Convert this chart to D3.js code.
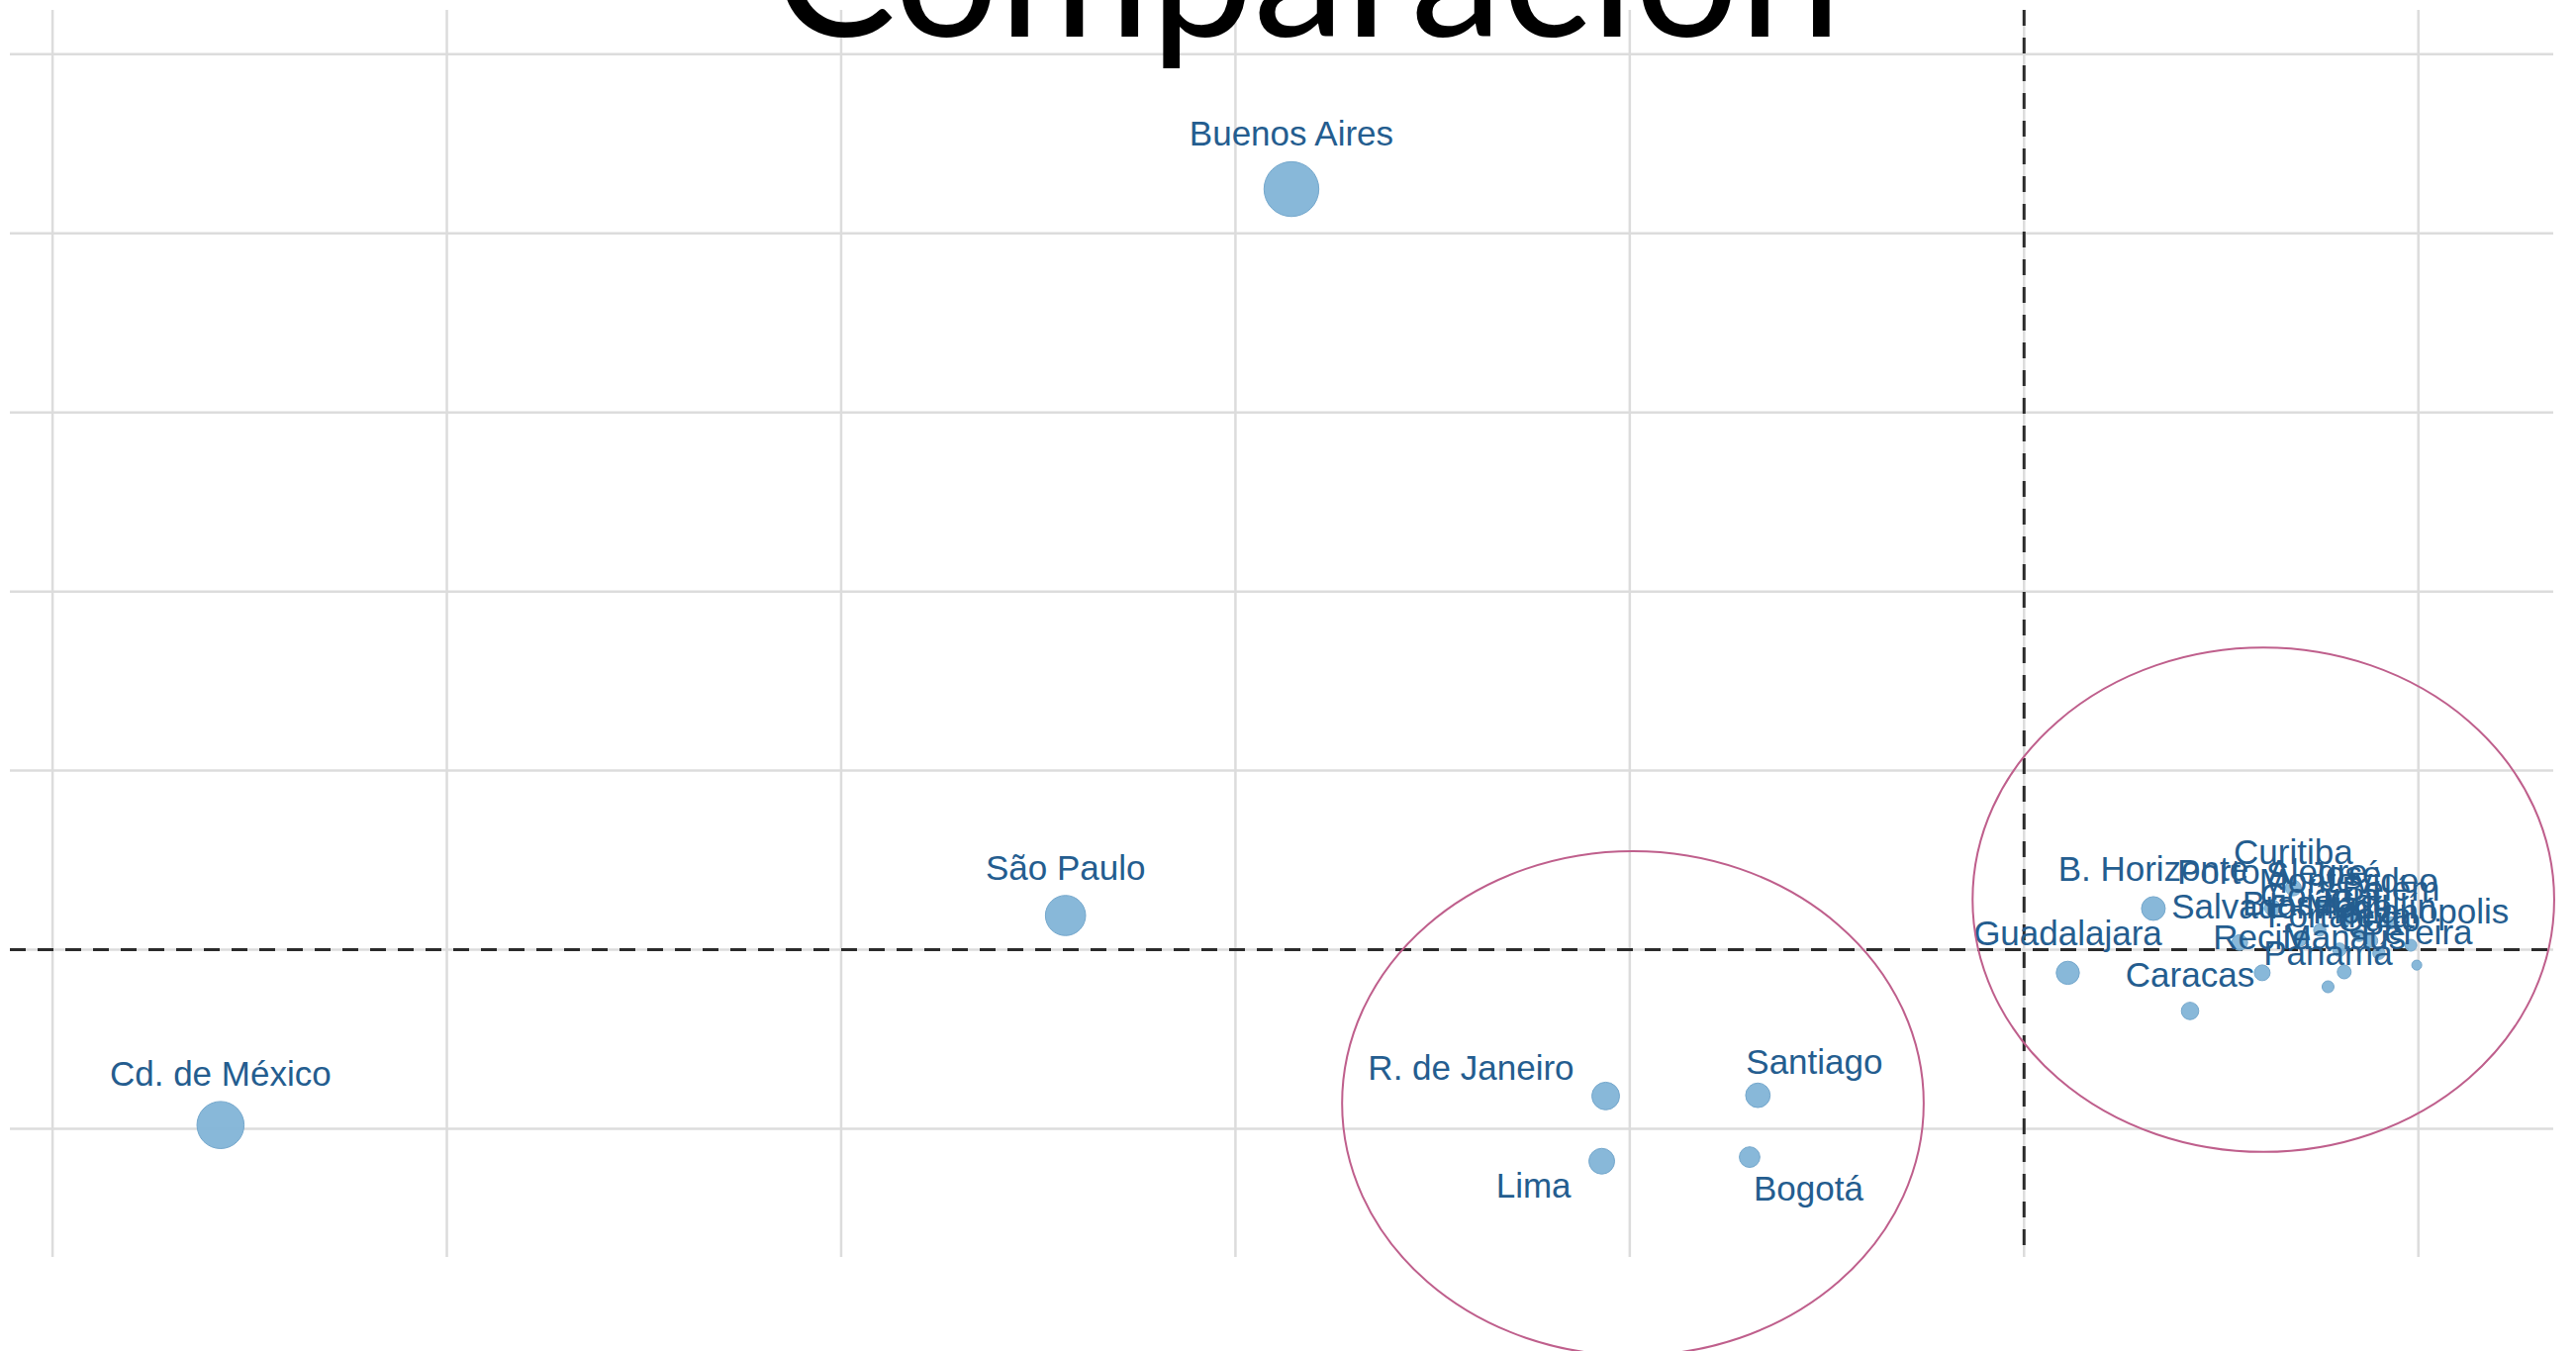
<!DOCTYPE html>
<html>
<head>
<meta charset="utf-8">
<script src="https://cdnjs.cloudflare.com/ajax/libs/d3/7.8.5/d3.min.js"></script>
<style>
  body { margin: 0; background: #fff; overflow: hidden; }
  .label { font-family: "Liberation Sans", Arial, sans-serif; font-size: 35px; fill: #245d8f; }
</style>
</head>
<body>
<div class="chart"></div>
<script>

// Data

var cities = ["Buenos Aires", "São Paulo", "Cd. de México", "R. de Janeiro", "Santiago", "Lima", "Bogotá",
    "B. Horizonte", "Guadalajara", "Caracas", "Recife", "Panamá", "Manaus", "Pereira", "Salvador",
    "Florianópolis", "Montevideo", "Curitiba", "Porto Alegre", "S. José", "Brasília", "Medellín",
    "Quito", "Goiânia", "Belém", "Fortaleza", "Cali"];

var xValues = [3.142, 2.569, 0.426, 3.939, 4.325, 3.929, 4.304,
    5.328, 5.111, 5.421, 5.604, 5.771, 5.812, 5.996, 5.547,
    5.981, 5.823, 5.683, 5.630, 5.760, 5.700, 5.880,
    5.900, 5.750, 5.930, 5.800, 5.850];

var yValues = [5.247, 1.191, 0.021, 0.183, 0.187, -0.181, -0.158,
    1.230, 0.871, 0.658, 0.871, 0.793, 0.876, 0.914, 1.040,
    1.025, 1.185, 1.345, 1.234, 1.230, 1.060, 1.050,
    0.980, 1.110, 1.150, 1.000, 1.080];

var sizes = [100, 53.7, 73.8, 25.5, 20, 22, 14.1,
    18.8, 17.8, 10.1, 8.3, 4.7, 6.4, 3.3, 8.3,
    4.7, 8.3, 8.3, 8.3, 6, 7, 6,
    5, 5, 5, 6, 5];

var xTicks = [0, 1, 2, 3, 4, 5, 6];
var yTicks = [0, 1, 2, 3, 4, 5, 6];

// reference lines (dashed)
var xRef = 5;
var yRef = 1;

// circled groups: centre and radii in data units
var groups = [
    { cx: 5.607, cy: 1.279, rx: 0.7375, ry: 1.408 },
    { cx: 4.008, cy: 0.142, rx: 0.7375, ry: 1.408 }
];

var title = "Comparación";

// Set-up the plot dimensions

var svgWidth = 2603;
var svgHeight = 1365;

var plot = { left: 10, right: 2580, top: 10, bottom: 1270 };

var svg = d3.select(".chart")
    .append("svg")
    .attr("width", svgWidth)
    .attr("height", svgHeight)
    .style("display", "block");

svg.append("rect")
    .attr("width", svgWidth)
    .attr("height", svgHeight)
    .attr("fill", "#fff");

var xScale = d3.scaleLinear()
    .domain([0, 6])
    .range([53.1, 2443.7]);

var yScale = d3.scaleLinear()
    .domain([0, 6])
    .range([1140.5, 54.8]);

var rScale = d3.scaleSqrt()
    .domain([0, 100])
    .range([0, 27.7]);

var data = cities.map(function(name, i) {
    return { name: name, x: xValues[i], y: yValues[i], size: sizes[i] };
});

var chart = svg.append("g");

// Grid lines

chart.append("g")
    .selectAll("line")
    .data(xTicks)
    .enter()
    .append("line")
    .attr("x1", function(d) { return xScale(d); })
    .attr("x2", function(d) { return xScale(d); })
    .attr("y1", plot.top)
    .attr("y2", plot.bottom)
    .attr("stroke", "#dcdcdc")
    .attr("stroke-width", 2.5);

chart.append("g")
    .selectAll("line")
    .data(yTicks)
    .enter()
    .append("line")
    .attr("x1", plot.left)
    .attr("x2", plot.right)
    .attr("y1", function(d) { return yScale(d); })
    .attr("y2", function(d) { return yScale(d); })
    .attr("stroke", "#dcdcdc")
    .attr("stroke-width", 2.5);

// Dashed reference lines

chart.append("line")
    .attr("x1", xScale(xRef))
    .attr("x2", xScale(xRef))
    .attr("y1", plot.top)
    .attr("y2", plot.bottom)
    .attr("stroke", "#2b2b2b")
    .attr("stroke-width", 3)
    .attr("stroke-dasharray", "16,12");

chart.append("line")
    .attr("x1", plot.left)
    .attr("x2", plot.right)
    .attr("y1", yScale(yRef))
    .attr("y2", yScale(yRef))
    .attr("stroke", "#2b2b2b")
    .attr("stroke-width", 3)
    .attr("stroke-dasharray", "16,12");

// Bubbles

chart.append("g")
    .selectAll("circle")
    .data(data)
    .enter()
    .append("circle")
    .attr("cx", function(d) { return xScale(d.x); })
    .attr("cy", function(d) { return yScale(d.y); })
    .attr("r", function(d) { return rScale(d.size); })
    .attr("fill", "#82b4d7")
    .attr("fill-opacity", 0.95)
    .attr("stroke", "#74a7cc")
    .attr("stroke-width", 1);

// Label placement: default is centred above the bubble

var placement = {
    "R. de Janeiro": { anchor: "end", dx: function(r) { return -(r + 18); }, dy: function(r) { return -16; } },
    "Santiago": { anchor: "start", dx: function(r) { return -12; }, dy: function(r) { return -22; } },
    "Lima": { anchor: "end", dx: function(r) { return -(r + 18); }, dy: function(r) { return 37; } },
    "Bogotá": { anchor: "start", dx: function(r) { return 4; }, dy: function(r) { return 44; } }
};

chart.append("g")
    .selectAll("text")
    .data(data)
    .enter()
    .append("text")
    .attr("class", "label")
    .attr("x", function(d) {
        var p = placement[d.name];
        var r = rScale(d.size);
        return xScale(d.x) + (p ? p.dx(r) : 0);
    })
    .attr("y", function(d) {
        var p = placement[d.name];
        var r = rScale(d.size);
        return yScale(d.y) + (p ? p.dy(r) : -(r + 16));
    })
    .attr("text-anchor", function(d) {
        var p = placement[d.name];
        return p ? p.anchor : "middle";
    })
    .text(function(d) { return d.name; });

// Hand-drawn style group ellipses

chart.append("g")
    .selectAll("ellipse")
    .data(groups)
    .enter()
    .append("ellipse")
    .attr("cx", function(d) { return xScale(d.cx); })
    .attr("cy", function(d) { return yScale(d.cy); })
    .attr("rx", function(d) { return xScale(d.cx + d.rx) - xScale(d.cx); })
    .attr("ry", function(d) { return yScale(d.cy - d.ry) - yScale(d.cy); })
    .attr("fill", "none")
    .attr("stroke", "#bf5f8c")
    .attr("stroke-width", 2);

// Title, partly cut by the top edge

var titleText = svg.append("text")
    .attr("x", 1321)
    .attr("y", 37)
    .attr("text-anchor", "middle")
    .attr("font-family", "Lato, 'Noto Sans', sans-serif")
    .attr("font-size", 165)
    .attr("fill", "#000")
    .text(title);

// fit title to the width seen in the picture
var tw = titleText.node().getComputedTextLength();
titleText.attr("font-size", 165 * 1080 / tw);

</script>
</body>
</html>
